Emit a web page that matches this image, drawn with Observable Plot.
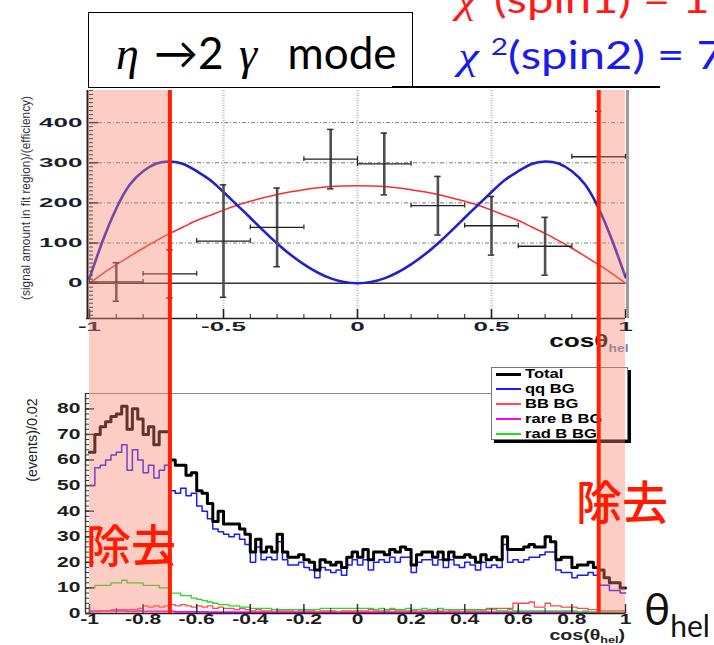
<!DOCTYPE html>
<html><head><meta charset="utf-8">
<script src="https://cdn.jsdelivr.net/npm/d3@7"></script>
<script src="https://cdn.jsdelivr.net/npm/@observablehq/plot@0.6"></script>
<style>
body{margin:0;background:#fff;}
#root{position:relative;width:714px;height:645px;overflow:hidden;background:#fff;}
.abs{position:absolute;white-space:nowrap;}
</style></head><body><div id="root"></div>
<script>
// ---------------- data ----------------
// top panel: measured points (cos theta_hel bins of 0.2)
const ptX  = [-0.9, -0.7, -0.5, -0.3, -0.1, 0.1, 0.3, 0.5, 0.7, 0.9];
const ptY  = [3, 23, 105, 139, 309, 297, 193, 143, 92, 315];
const ptEy = [48, 60, 140, 98, 74, 77, 73, 73, 72, 113];
const ptEx = [0.1, 0.1, 0.1, 0.1, 0.1, 0.1, 0.1, 0.1, 0.1, 0.1];
// fitted curves
const curveX  = [-1, -0.95, -0.9, -0.85, -0.8, -0.75, -0.7, -0.65, -0.6, -0.55, -0.5, -0.45, -0.4, -0.3, -0.2, -0.1, 0, 0.1, 0.2, 0.3, 0.4, 0.45, 0.5, 0.55, 0.6, 0.65, 0.7, 0.75, 0.8, 0.85, 0.9, 0.95, 1];
const spin2Y  = [12, 107, 186, 245, 279, 298, 303, 297, 279, 257, 227, 195, 163, 99, 47, 12, 0, 12, 47, 99, 163, 195, 227, 257, 279, 297, 303, 298, 279, 245, 186, 107, 15];
const spin1Y  = [0, 24, 46, 67, 87, 106, 124, 140, 156, 169, 182, 194, 204, 221, 233, 241, 243, 241, 233, 221, 204, 194, 182, 169, 156, 140, 124, 106, 87, 67, 46, 24, 0];
const topYTicks = [0, 100, 200, 300, 400];
const topYGrid  = [100, 200, 300, 400];
const topXTicks = [-1, -0.5, 0, 0.5, 1];
const topXGrid  = [-0.5, 0, 0.5];

// bottom panel: histograms, 100 bins of 0.02 from -1 to 1
const totalBG = [63,70,73,75,77,78,81,72,80,76, 70,73,66,71,71,60,58,58,54,55, 48,47,43,36,40,35,35,35,33,31, 24,29,24,26,24,31,24,22,22,23,
  21,20,17,21,20,19,20,18,22,24, 22,25,21,24,24,23,25,24,26,25, 19,23,24,24,22,24,21,24,22,22, 23,22,20,23,21,22,21,30,25,25,
  25,26,27,26,26,30,28,21,22,22, 18,19,19,20,18,17,14,12,12,10];
const qqBG = [50,57,58,60,62,63,66,56,64,60, 55,58,53,56,58,48,47,49,46,47, 42,40,37,33,32,31,30,31,29,27, 20,26,21,22,21,28,21,19,19,20,
  18,17,14,18,17,16,17,15,19,21, 19,21,17,20,21,20,22,20,22,22, 16,20,21,21,19,21,18,21,19,18, 20,19,17,20,18,19,18,27,20,21,
  20,21,22,22,23,24,24,17,16,16, 14,15,15,16,15,11,11,9,9,8];
const bbBG = [1,1,1,1,1.5,1.5,1.5,1.5,1.5,2, 3,2.5,3,2.5,3,3.5,3,3.5,3,2.5, 3,2.5,3,2,2.5,2,2,1.5,2,1.5, 1,1.5,1,1,1.5,1,1,1,1.5,1,
  1,1,0.5,1,1,1,0.5,1,1,1, 1,1,1.5,1,1,1,1.5,1,1,1, 1,1.5,1,1,1,1,1.5,1,1,1.5, 1,1,1.5,1,2,2,2,2,2,4,
  4,4,4.5,2.5,2.5,4,3,3,2.5,2.5, 2.5,2,2,1.5,1.5,1,1,1,1,1];
const radBG = [10,11,11,11,12,12,13,12,12,12, 11,11,11,10,10,8,8,7,7,6, 5.5,5,4.5,4,3.5,3.5,3,3,2.5,2.5, 2,2,2,2,1.5,1.5,1.5,1.5,1.5,1.5,
  1.5,1.5,1.5,2,2,2,2,2,2,2, 2,2,2,1.5,2,1.5,2,1.5,1.5,2, 1.5,1.5,2,1.5,1.5,2,1.5,1.5,1.5,1.5, 1.5,1.5,1,1.5,1.5,1.5,1,1,1.5,1,
  1,1,1,1,1,1,1,1,1,1, 1,0.5,1,0.5,0.5,0.5,0.5,0.5,0.5,0.5];
const rareBG = [0.8,0.8,1,1,1,1,1,0.8,0.8,1, 0.8,0.8,0.8,0.8,0.8,0.8,0.6,0.6,0.6,0.6, 0.6,0.6,0.5,0.5,0.5,0.5,0.5,0.5,0.5,0.5, 0.5,0.5,0.5,0.5,0.5,0.5,0.5,0.5,0.5,0.5,
  0.5,0.5,0.5,0.5,0.5,0.5,0.5,0.5,0.5,0.5, 0.5,0.5,0.5,0.5,0.5,0.5,0.5,0.5,0.5,0.5, 0.5,0.5,0.5,0.5,0.5,0.5,0.5,0.5,0.5,0.5, 0.5,0.5,0.5,0.5,0.5,0.5,0.5,0.5,0.5,0.5,
  0.5,0.5,0.5,0.5,0.5,0.5,0.5,0.5,0.5,0.5, 0.4,0.4,0.4,0.4,0.4,0.3,0.3,0.3,0.3,0.3];
const legendNames  = ["Total", "qq BG", "BB BG", "rare B BG", "rad B BG"];
const legendColors = ["#000000", "#1a1aff", "#ff4a4a", "#ff00ff", "#1ee01e"];
const botYTicks = [0, 10, 20, 30, 40, 50, 60, 70, 80];
const botXTicks = [-1, -0.8, -0.6, -0.4, -0.2, 0, 0.2, 0.4, 0.6, 0.8, 1];
const botXLabels = ["-1", "-0.8", "-0.6", "-0.4", "-0.2", "0", "0.2", "0.4", "0.6", "0.8", "1"];

// cut regions
const cutRegions = [{from: -1, to: -0.7}, {from: 0.9, to: 1}];
const cutLines = [-0.7, 0.9];

// ---------------- helpers ----------------
const root = document.getElementById("root");
const FONT = "'Liberation Sans', Arial, sans-serif";
function place(el, left, top, z) {
  const w = document.createElement("div");
  w.className = "abs";
  w.style.left = left + "px"; w.style.top = top + "px";
  if (z) w.style.zIndex = z;
  w.appendChild(el); root.appendChild(w); return w;
}
function stretch(svg, f) {
  svg.querySelectorAll('g[aria-label="text"] text').forEach(t => {
    const L = t.getComputedTextLength();
    t.setAttribute("textLength", (L * f).toFixed(1));
    t.setAttribute("lengthAdjust", "spacingAndGlyphs");
  });
}
function html(str, css, z) {
  const d = document.createElement("div");
  d.className = "abs"; d.innerHTML = str; d.style.cssText += css;
  if (z) d.style.zIndex = z;
  root.appendChild(d); return d;
}
function rotLabel(text, cx, cy, size, length, color) {
  const d = html(text, `left:${cx}px;top:${cy}px;font:${size}px ${FONT};color:${color};`);
  const w = d.offsetWidth;
  d.style.transform = `translate(-50%,-50%) rotate(-90deg) scaleX(${length / w})`;
}
function stepData(values) {
  const d = values.map((v, i) => ({x: -1 + 0.02 * i, y: v}));
  d.push({x: 1, y: values[values.length - 1]});
  return d;
}

// ---------------- top panel ----------------
const W = 714, TOPH = 270, TOPIN = 228, PW = 536;
const pts = ptX.map((x, i) => ({x, y: ptY[i], ey: ptEy[i], ex: ptEx[i]}));
const c1 = curveX.map((x, i) => ({x, y: spin1Y[i]}));
const c2 = curveX.map((x, i) => ({x, y: spin2Y[i]}));
const topPlot = Plot.plot({
  width: W, height: TOPH, marginTop: 10, marginBottom: 32, marginLeft: 89, marginRight: 89,
  x: {domain: [-1, 1], axis: null},
  y: {domain: [-88, 480], axis: null},
  style: {background: "none", fontFamily: FONT, overflow: "visible"},
  marks: [
    Plot.ruleY(topYGrid, {y: d => d, stroke: "#7a7a7a", strokeWidth: 1, strokeDasharray: "4,2,1,2"}),
    Plot.ruleX(topXGrid, {x: d => d, stroke: "#c4c4c4", strokeWidth: 2.5, strokeDasharray: "1,1.5"}),
    Plot.ruleY([0], {y: d => d, stroke: "#333", strokeWidth: 1.5}),
    Plot.line(c1, {x: "x", y: "y", stroke: "#ff2b2b", strokeWidth: 1.5, curve: "natural"}),
    Plot.line(c2, {x: "x", y: "y", stroke: "#2020cc", strokeWidth: 2.6, curve: "natural"}),
    Plot.ruleX(pts, {x: "x", y1: d => d.y - d.ey, y2: d => d.y + d.ey, stroke: "#505050", strokeWidth: 2.6}),
    Plot.ruleY(pts, {y: d => d.y + d.ey, x1: d => d.x - 0.012, x2: d => d.x + 0.012, stroke: "#333", strokeWidth: 1.5}),
    Plot.ruleY(pts, {y: d => d.y - d.ey, x1: d => d.x - 0.012, x2: d => d.x + 0.012, stroke: "#333", strokeWidth: 1.5}),
    Plot.ruleY(pts, {y: "y", x1: d => d.x - d.ex, x2: d => d.x + d.ex, stroke: "#222", strokeWidth: 1.3}),
    Plot.ruleX(pts, {x: d => d.x - d.ex, y1: d => d.y - 6, y2: d => d.y + 6, stroke: "#222", strokeWidth: 1.2}),
    Plot.ruleX(pts, {x: d => d.x + d.ex, y1: d => d.y - 6, y2: d => d.y + 6, stroke: "#222", strokeWidth: 1.2}),
    // inward ticks
    Plot.tickY(d3.range(-80, 481, 10), {y: d => d, insetRight: PW - 4, stroke: "#222"}),
    Plot.tickY(topYTicks, {y: d => d, insetRight: PW - 9, stroke: "#222", strokeWidth: 1.5}),
    Plot.tickX(d3.range(-10, 11).map(k => k / 10), {x: d => d, insetTop: TOPIN - 4, stroke: "#222"}),
    Plot.tickX(topXTicks, {x: d => d, insetTop: TOPIN - 9, stroke: "#222", strokeWidth: 1.5}),
    // frame
    Plot.ruleX([-1], {x: d => d, dx: -2, stroke: "#222", strokeWidth: 2}),
    Plot.ruleY([-88], {y: d => d, stroke: "#222", strokeWidth: 1.5, insetLeft: -3}),
    Plot.ruleX([1], {x: d => d, dx: 2, stroke: "#9a9a9a", strokeWidth: 3}),
    // tick labels
    Plot.text(topYTicks, {y: d => d, text: d => String(d), frameAnchor: "left", textAnchor: "end", dx: -7,
      fontWeight: "bold", fontSize: 13, fill: "#1a1f30"}),
    Plot.text(topXTicks, {x: d => d, text: d => String(d), frameAnchor: "bottom", lineAnchor: "top", dy: 3,
      fontWeight: "bold", fontSize: 13, fill: "#1a1f30"})
  ]
});
place(topPlot, 0, 80, 1);
stretch(topPlot, 2.0);

// ---------------- bottom panel ----------------
const BOTH = 260, BOTIN = 220;
const botPlot = Plot.plot({
  width: W, height: BOTH, marginTop: 8, marginBottom: 32, marginLeft: 89, marginRight: 89,
  x: {domain: [-1, 1], axis: null},
  y: {domain: [0, 86], axis: null},
  style: {background: "none", fontFamily: FONT, overflow: "visible"},
  marks: [
    Plot.ruleY([86], {y: d => d, stroke: "#888", strokeWidth: 1, insetLeft: -4}),
    Plot.line(stepData(rareBG), {x: "x", y: "y", curve: "step-after", stroke: legendColors[3], strokeWidth: 1.8}),
    Plot.line(stepData(bbBG), {x: "x", y: "y", curve: "step-after", stroke: legendColors[2], strokeWidth: 1.3}),
    Plot.line(stepData(radBG), {x: "x", y: "y", curve: "step-after", stroke: legendColors[4], strokeWidth: 1.3}),
    Plot.line(stepData(qqBG), {x: "x", y: "y", curve: "step-after", stroke: legendColors[1], strokeWidth: 1.5}),
    Plot.line(stepData(totalBG), {x: "x", y: "y", curve: "step-after", stroke: legendColors[0], strokeWidth: 3}),
    Plot.ruleX([-1], {x: d => d, dx: -4, stroke: "#444", strokeWidth: 1.5}),
    Plot.ruleY([0], {y: d => d, stroke: "#222", strokeWidth: 1.5, insetLeft: -4}),
    Plot.tickY(d3.range(0, 87, 2), {y: d => d, insetRight: PW - 4, dx: -4, stroke: "#333"}),
    Plot.tickY(botYTicks, {y: d => d, insetRight: PW - 9, dx: -4, stroke: "#333", strokeWidth: 1.5}),
    Plot.tickX(d3.range(-10, 11).map(k => k / 10), {x: d => d, insetTop: BOTIN - 5, stroke: "#333"}),
    Plot.tickX(botXTicks, {x: d => d, insetTop: BOTIN - 9, stroke: "#333", strokeWidth: 1.5}),
    Plot.text(botYTicks, {y: d => d, text: d => String(d), frameAnchor: "left", textAnchor: "end", dx: -9,
      fontWeight: "bold", fontSize: 14, fill: "#1d1d1d"}),
    Plot.text(botXTicks, {x: d => d, text: (d, i) => botXLabels[i], frameAnchor: "bottom", lineAnchor: "top", dy: 1,
      fontWeight: "bold", fontSize: 14, fill: "#1d1d1d"})
  ]
});
place(botPlot, 0, 385, 1);
stretch(botPlot, 1.5);

// axis titles
rotLabel("(signal amount in fit region)/(efficiency)", 25, 198, 13, 204, "#333");
rotLabel("(events)/0.02", 31, 440, 15, 84, "#222");
html(`cosθ<span style="font-size:10px;color:#6a88b0;position:relative;top:5px;">hel</span>`,
  `right:86px;top:330px;font:bold 19px ${FONT};color:#111;transform:scaleX(1.38);transform-origin:right center;`, 2);
html(`cos(θ<span style="font-size:9px;position:relative;top:3px;">hel</span>)`,
  `right:89px;top:627px;font:bold 14px ${FONT};color:#222;transform:scaleX(1.4);transform-origin:right center;`, 2);

// legend
const leg = html("", `left:491px;top:367px;width:135px;height:71px;border:1px solid #777;background:#fff;box-shadow:3px 3px 0 #000;`, 3);
legendNames.forEach((n, i) => {
  const cy = 6 + i * 15;
  const ln = document.createElement("div");
  ln.style.cssText = `position:absolute;left:4px;top:${cy - (i === 0 ? 1.5 : 0.75)}px;width:25px;height:${i === 0 ? 3 : 1.5}px;background:${legendColors[i]};`;
  leg.appendChild(ln);
  const t = document.createElement("div");
  t.textContent = n;
  t.style.cssText = `position:absolute;left:33px;top:${cy - 8}px;font:bold 12px ${FONT};line-height:16px;color:#000;white-space:nowrap;transform:scaleX(1.38);transform-origin:left center;`;
  leg.appendChild(t);
});

// ---------------- cut overlay ----------------
const overlay = Plot.plot({
  width: W, height: 523, marginTop: 0, marginBottom: 0, marginLeft: 89, marginRight: 89,
  x: {domain: [-1, 1], axis: null},
  y: {domain: [0, 1], axis: null},
  style: {background: "none", overflow: "visible"},
  marks: [
    Plot.rect(cutRegions, {x1: "from", x2: "to", y1: () => 0, y2: () => 1, fill: "#f7836b", fillOpacity: 0.4}),
    Plot.ruleX(cutLines, {x: d => d, stroke: "#ff2200", strokeWidth: 4})
  ]
});
const ow = place(overlay, 0, 90, 4);
ow.style.pointerEvents = "none";

// annotations
const CJK = "'Noto Sans CJK JP','Noto Sans CJK SC',sans-serif";
html("除去", `left:86px;top:516px;font:500 45px ${CJK};color:#ff1a00;line-height:56px;`, 5);
html("除去", `left:576px;top:471px;font:500 46px ${CJK};color:#ff1a00;line-height:56px;`, 5);
html(`θ<span style="font-size:30px;position:relative;top:12px;">hel</span>`,
  `left:644px;top:584px;font:44px Lato,'Noto Sans',sans-serif;color:#111;line-height:48px;`, 5);

// title box and chi2 texts
const SERIF = "font-family:'Liberation Serif',serif;font-style:italic;";
html(`<span style="${SERIF}font-size:46px;">η</span> →2 <span style="${SERIF}font-size:46px;">γ</span>&nbsp; mode`,
  `left:88px;top:12px;width:325px;height:76px;border:1.5px solid #000;background:#fff;box-sizing:border-box;padding-left:27px;font:44px Lato,'Noto Sans',sans-serif;line-height:78px;color:#000;word-spacing:4px;`, 6);
html("", `left:392px;top:86px;width:268px;height:2px;background:#000;`, 6);
html(`<span style="${SERIF}">χ</span><sup style="font-size:24px;">2</sup>(spin1) = 1`,
  `left:456px;top:-32px;font:38px Lato,'Noto Sans',sans-serif;color:#ff1a1a;line-height:44px;transform:scaleX(1.24);transform-origin:left center;`, 6);
html(`<span style="${SERIF}">χ</span>&nbsp;<sup style="font-size:24px;">2</sup>(spin2) = 7`,
  `left:458px;top:24px;font:38px Lato,'Noto Sans',sans-serif;color:#1a1aee;line-height:44px;transform:scaleX(1.24);transform-origin:left center;`, 6);
</script></body></html>
